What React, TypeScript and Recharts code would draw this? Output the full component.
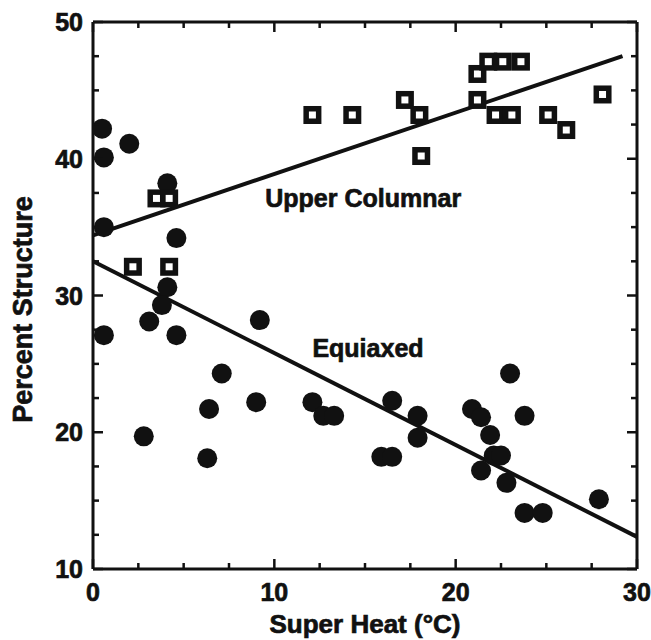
import { ReactElement } from "react";
import { Scatter, ScatterChart, XAxis, YAxis } from "recharts";

type Pt = { x: number; y: number };

// filled circles
const equiaxed: Pt[] = [
  { x: 0.5, y: 42.2 },
  { x: 0.6, y: 40.1 },
  { x: 2.0, y: 41.1 },
  { x: 4.1, y: 38.2 },
  { x: 0.6, y: 35.0 },
  { x: 4.6, y: 34.2 },
  { x: 4.1, y: 30.6 },
  { x: 3.8, y: 29.3 },
  { x: 3.1, y: 28.1 },
  { x: 9.2, y: 28.2 },
  { x: 0.6, y: 27.1 },
  { x: 4.6, y: 27.1 },
  { x: 7.1, y: 24.3 },
  { x: 6.4, y: 21.7 },
  { x: 9.0, y: 22.2 },
  { x: 12.1, y: 22.2 },
  { x: 12.7, y: 21.2 },
  { x: 13.3, y: 21.2 },
  { x: 2.8, y: 19.7 },
  { x: 6.3, y: 18.1 },
  { x: 16.5, y: 22.3 },
  { x: 17.9, y: 21.2 },
  { x: 17.9, y: 19.6 },
  { x: 15.9, y: 18.2 },
  { x: 16.5, y: 18.2 },
  { x: 20.9, y: 21.7 },
  { x: 21.4, y: 21.1 },
  { x: 21.9, y: 19.8 },
  { x: 22.1, y: 18.3 },
  { x: 22.5, y: 18.3 },
  { x: 21.4, y: 17.2 },
  { x: 22.8, y: 16.3 },
  { x: 23.0, y: 24.3 },
  { x: 23.8, y: 21.2 },
  { x: 23.8, y: 14.1 },
  { x: 24.8, y: 14.1 },
  { x: 27.9, y: 15.1 },
];

// open squares
const upperColumnar: Pt[] = [
  { x: 2.2, y: 32.1 },
  { x: 4.2, y: 32.1 },
  { x: 3.5, y: 37.1 },
  { x: 4.2, y: 37.1 },
  { x: 12.1, y: 43.2 },
  { x: 14.3, y: 43.2 },
  { x: 17.2, y: 44.3 },
  { x: 18.0, y: 43.2 },
  { x: 18.1, y: 40.2 },
  { x: 21.2, y: 46.2 },
  { x: 21.2, y: 44.3 },
  { x: 21.8, y: 47.1 },
  { x: 22.6, y: 47.1 },
  { x: 23.6, y: 47.1 },
  { x: 22.2, y: 43.2 },
  { x: 23.1, y: 43.2 },
  { x: 25.1, y: 43.2 },
  { x: 26.1, y: 42.1 },
  { x: 28.1, y: 44.7 },
];

const equiaxedFit: Pt[] = [
  { x: 0, y: 32.5 },
  { x: 30, y: 12.35 },
];
const upperFit: Pt[] = [
  { x: 0, y: 34.4 },
  { x: 29.2, y: 47.5 },
];

const annotations = [
  { x: 9.5, y: 36.5, text: "Upper Columnar" },
  { x: 12.1, y: 25.5, text: "Equiaxed" },
];

const xTicks = [0, 2.5, 5, 7.5, 10, 12.5, 15, 17.5, 20, 22.5, 25, 27.5, 30];
const yTicks = [10, 12.5, 15, 17.5, 20, 22.5, 25, 27.5, 30, 32.5, 35, 37.5, 40, 42.5, 45, 47.5, 50];
const xLabels = [0, 10, 20, 30];
const yLabels = [10, 20, 30, 40, 50];

const INK = "#111";
const FONT = "'Liberation Sans', Arial, sans-serif";
// scanned lettering is heavier than plain bold
const heavy = { stroke: INK, strokeWidth: 0.7 };

function tickText(x: number, y: number, anchor: "end" | "middle", value: number) {
  return (
    <text
      x={x}
      y={y}
      textAnchor={anchor}
      dominantBaseline="central"
      fontFamily={FONT}
      fontWeight="bold"
      fontSize={25}
      fill={INK}
      {...heavy}
    >
      {value}
    </text>
  );
}

function LeftTick({ x, y, payload }: any) {
  const major = yLabels.includes(payload.value);
  return (
    <g>
      <line x1={x} y1={y} x2={x + (major ? 10 : 6)} y2={y} stroke={INK} strokeWidth={2.5} />
      {major && tickText(x - 10, y, "end", payload.value)}
    </g>
  );
}

function RightTick({ x, y, payload }: any) {
  const major = yLabels.includes(payload.value);
  return <line x1={x} y1={y} x2={x - (major ? 10 : 6)} y2={y} stroke={INK} strokeWidth={2.5} />;
}

function BottomTick({ x, y, payload }: any) {
  const major = xLabels.includes(payload.value);
  return (
    <g>
      <line x1={x} y1={y} x2={x} y2={y - (major ? 10 : 6)} stroke={INK} strokeWidth={2.5} />
      {major && tickText(x, y + 23, "middle", payload.value)}
    </g>
  );
}

function TopTick({ x, y, payload }: any) {
  const major = xLabels.includes(payload.value);
  return <line x1={x} y1={y} x2={x} y2={y + (major ? 10 : 6)} stroke={INK} strokeWidth={2.5} />;
}

function XTitle({ viewBox }: any) {
  return (
    <text
      x={viewBox.x + viewBox.width / 2}
      y={viewBox.y + 55}
      textAnchor="middle"
      dominantBaseline="central"
      fontFamily={FONT}
      fontWeight="bold"
      fontSize={26}
      fill={INK}
      {...heavy}
    >
      Super Heat (°C)
    </text>
  );
}

function YTitle({ viewBox }: any) {
  const cx = viewBox.x + 23;
  const cy = viewBox.y + viewBox.height / 2 + 14;
  return (
    <text
      x={cx}
      y={cy}
      transform={`rotate(-90, ${cx}, ${cy})`}
      textAnchor="middle"
      dominantBaseline="central"
      fontFamily={FONT}
      fontWeight="bold"
      fontSize={27}
      fill={INK}
      {...heavy}
    >
      Percent Structure
    </text>
  );
}

const axisLine = { stroke: INK, strokeWidth: 3 };

export default function App(): ReactElement {
  return (
    <div>
      <style>{"body{margin:0;overflow:hidden;background:#fff}"}</style>
      <ScatterChart width={651} height={640} margin={{ top: 12, right: 10, bottom: 0, left: 0 }}>
        <XAxis
          xAxisId="bottom"
          dataKey="x"
          type="number"
          domain={[0, 30]}
          ticks={xTicks}
          interval={0}
          height={71}
          tickSize={0}
          tickMargin={0}
          tickLine={false}
          axisLine={axisLine}
          tick={(p: any) => <BottomTick {...p} />}
          label={<XTitle />}
        />
        <XAxis
          xAxisId="top"
          orientation="top"
          dataKey="x"
          type="number"
          domain={[0, 30]}
          ticks={xTicks}
          interval={0}
          height={10}
          tickSize={0}
          tickMargin={0}
          tickLine={false}
          axisLine={axisLine}
          tick={(p: any) => <TopTick {...p} />}
        />
        <YAxis
          yAxisId="left"
          dataKey="y"
          type="number"
          domain={[10, 50]}
          ticks={yTicks}
          interval={0}
          width={93}
          tickSize={0}
          tickMargin={0}
          tickLine={false}
          axisLine={axisLine}
          tick={(p: any) => <LeftTick {...p} />}
          label={<YTitle />}
        />
        <YAxis
          yAxisId="right"
          orientation="right"
          dataKey="y"
          type="number"
          domain={[10, 50]}
          ticks={yTicks}
          interval={0}
          width={4}
          tickSize={0}
          tickMargin={0}
          tickLine={false}
          axisLine={axisLine}
          tick={(p: any) => <RightTick {...p} />}
        />
        <Scatter
          xAxisId="bottom"
          yAxisId="left"
          data={equiaxedFit}
          line={{ stroke: INK, strokeWidth: 4 }}
          shape={() => <g />}
          isAnimationActive={false}
        />
        <Scatter
          xAxisId="top"
          yAxisId="right"
          data={upperFit}
          line={{ stroke: INK, strokeWidth: 4 }}
          shape={() => <g />}
          isAnimationActive={false}
        />
        <Scatter
          xAxisId="bottom"
          yAxisId="left"
          data={equiaxed}
          shape={(p: any) => <circle cx={p.cx} cy={p.cy} r={10} fill={INK} />}
          isAnimationActive={false}
        />
        <Scatter
          xAxisId="top"
          yAxisId="right"
          data={upperColumnar}
          shape={(p: any) => (
            <rect x={p.cx - 6.25} y={p.cy - 6.25} width={12.5} height={12.5} fill="#fff" stroke={INK} strokeWidth={5.5} />
          )}
          isAnimationActive={false}
        />
        <Scatter
          xAxisId="bottom"
          yAxisId="left"
          data={annotations}
          shape={(p: any) => (
            <text x={p.cx} y={p.cy} fontFamily={FONT} fontWeight="bold" fontSize={25} fill={INK} {...heavy}>
              {p.payload.text}
            </text>
          )}
          isAnimationActive={false}
        />
      </ScatterChart>
    </div>
  );
}
